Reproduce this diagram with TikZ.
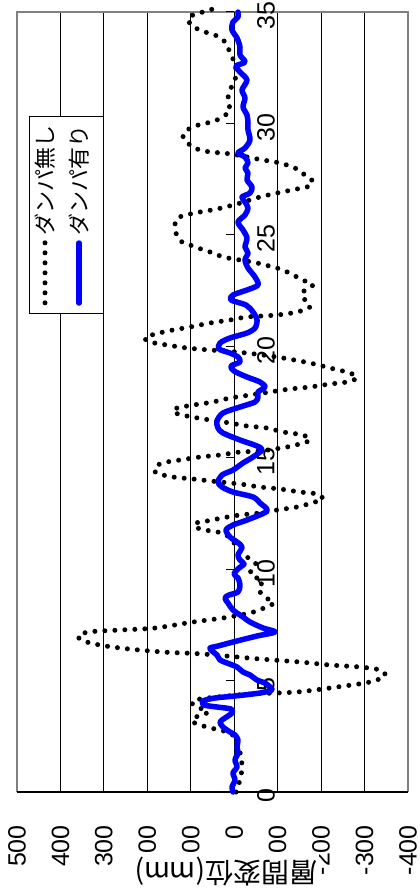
\documentclass[tikz,border=0pt]{standalone}
\usepackage{fontspec}
\setmainfont{Liberation Sans}
\newfontfamily\jpfont{Noto Sans CJK JP}
\begin{document}
\begin{tikzpicture}[x=1pt, y=-1pt,
    gridline/.style={black, line width=0.9pt},
    framebox/.style={gray, line width=1.8pt},
    numlabel/.style={rotate=90, inner sep=0pt, font=\fontsize{25}{30}\selectfont},
    nodamper/.style={black, line width=5pt, line cap=round, dash pattern=on 0pt off 10pt},
    damper/.style={blue, line width=5.5pt, line cap=round, line join=round}]
    \useasboundingbox (0,0) rectangle (420,891);

    % grid lines and plot area
    \foreach \k in {1,...,8}
        \draw[gridline] ({17+43.44*\k},12) -- ({17+43.44*\k},792);
    \draw[framebox] (17,792) -- (17,12) -- (408,12) -- (408,792);
    \draw[black, line width=1.5pt] (17,792) -- (408,792);

    % time axis on the zero line
    \draw[black, line width=1.3pt] (234.2,12) -- (234.2,792);
    \foreach \t [count=\i from 0] in {0,5,...,35} {
        \draw[black, line width=1pt] (226,{792-111.43*\i}) -- (234.2,{792-111.43*\i});
        \node[numlabel] (t\i) at (266,{796-111.43*\i}) {\t};
    }

    % displacement labels
    \foreach \v [count=\i from 0] in {500,400,...,-400}
        \node[numlabel, anchor=east] (v\i) at ({17+43.44*\i},825) {\v};
    \node[rotate=180, fill=white, inner xsep=2pt, inner ysep=5pt,
          font=\jpfont\fontsize{28}{32}\selectfont] (ytitle) at (226,872) {層間変位(mm)};

    % without damper
    \draw[nodamper] plot[smooth] coordinates {
        (236,792) (240,780) (242,768) (241,757) (238,745) (235,737) (227,732)
        (215,729) (200,725) (192,721) (198,716) (208,712) (195,706) (192,702)
        (200,699) (217,697) (250,694) (297,692) (337,687) (370,682) (385,676)
        (380,670) (360,667) (330,665) (300,662) (260,659) (203,654) (163,652)
        (120,648) (90,643) (78,637) (88,632) (120,630) (155,628) (193,622)
        (223,618) (250,613) (264,608) (274,603) (268,599) (260,592) (259,586)
        (263,582) (257,578) (250,573) (256,564) (247,557) (238,548) (230,538)
        (222,533) (205,530) (195,527) (196,523) (207,521) (222,518) (240,515)
        (260,513) (277,510) (297,507) (315,502) (323,499) (317,494) (300,492)
        (280,489) (260,487) (240,484) (220,482) (193,479) (173,477) (156,473)
        (155,468) (162,463) (180,460) (200,457) (220,455) (240,452) (260,451)
        (287,447) (303,443) (310,440) (303,435) (283,432) (267,428) (247,426)
        (230,423) (210,420) (192,417) (178,414) (173,411) (177,408) (187,406)
        (200,404) (213,402) (230,398) (250,395) (270,392) (290,389) (310,387)
        (330,384) (347,382) (357,378) (350,373) (330,368) (310,363) (283,358)
        (263,355) (237,352) (210,350) (187,348) (167,345) (150,342) (145,338)
        (155,334) (173,330) (190,327) (210,323) (230,320) (247,317) (277,315)
        (297,312) (310,307) (306,301) (302,296) (304,291) (313,285) (305,281)
        (293,275) (283,270) (273,267) (257,263) (240,260) (223,257) (213,253)
        (198,248) (190,245) (182,242) (177,236) (175,227) (176,220) (182,216)
        (200,212) (217,209) (237,204) (250,200) (260,197) (277,193) (297,189)
        (307,187) (313,182) (308,177) (302,173) (295,168) (280,163) (263,160)
        (252,158) (237,155) (223,153) (210,152) (197,149) (190,145) (183,137)
        (186,131) (195,126) (207,123) (217,120) (224,116) (230,111) (229,105)
        (228,98) (230,90) (235,80) (236,70) (234,61) (230,53) (226,43)
        (217,36) (208,33) (200,30) (192,26) (188,19) (193,15) (203,12) (213,9)};

    % with damper
    \draw[damper] plot[smooth] coordinates {
        (233,792) (232,787) (235,780) (233,773) (237,767) (235,760) (238,753)
        (237,747) (238,740) (235,735) (230,732) (223,727) (220,722) (225,718)
        (232,713) (231,709) (217,707) (204,705) (203,701) (215,698) (235,696)
        (260,693) (272,690) (270,687) (265,683) (257,680) (250,675) (243,672)
        (237,667) (227,663) (220,660) (217,655) (212,651) (210,648) (218,646)
        (233,642) (257,636) (275,632) (263,628) (250,622) (243,617) (233,610)
        (228,603) (225,598) (229,595) (238,592) (240,585) (238,578) (234,574)
        (239,568) (244,564) (240,560) (238,555) (242,547) (237,542) (230,537)
        (226,530) (233,525) (247,520) (267,511) (260,503) (253,497) (233,492)
        (222,487) (218,482) (222,475) (233,470) (243,463) (253,457) (262,450)
        (257,446) (240,440) (223,433) (218,428) (217,421) (223,413) (240,407)
        (255,402) (258,397) (258,392) (265,387) (260,382) (247,377) (234,371)
        (231,366) (240,362) (238,357) (230,353) (219,349) (220,343) (230,338)
        (247,333) (255,328) (257,320) (253,312) (246,305) (231,300) (233,295)
        (247,290) (258,285) (255,277) (248,268) (245,260) (248,253) (245,247)
        (247,238) (243,230) (238,222) (245,215) (248,208) (245,202) (242,197)
        (250,193) (252,187) (247,180) (248,173) (245,168) (248,163) (245,157)
        (238,153) (245,148) (250,140) (248,130) (248,123) (247,115) (243,107)
        (245,98) (242,90) (247,80) (240,72) (236,66) (245,62) (240,55)
        (240,47) (237,38) (232,30) (233,22) (238,17) (238,12)};

    % legend
    \node[draw=black, line width=0.8pt, fill=white, inner sep=0pt,
          minimum width=74pt, minimum height=197pt] (legend) at (66,214.5) {};
    \draw[nodamper] (45,242.8) -- (45,303.2);
    \draw[damper] (79,243) -- (79,303);
    \node[rotate=90, anchor=west, inner sep=0pt,
          font=\jpfont\fontsize{22}{26}\selectfont] (nolabel) at (45,236) {ダンパ無し};
    \node[rotate=90, anchor=west, inner sep=0pt,
          font=\jpfont\fontsize{22}{26}\selectfont] (withlabel) at (79,236) {ダンパ有り};
\end{tikzpicture}
\end{document}
